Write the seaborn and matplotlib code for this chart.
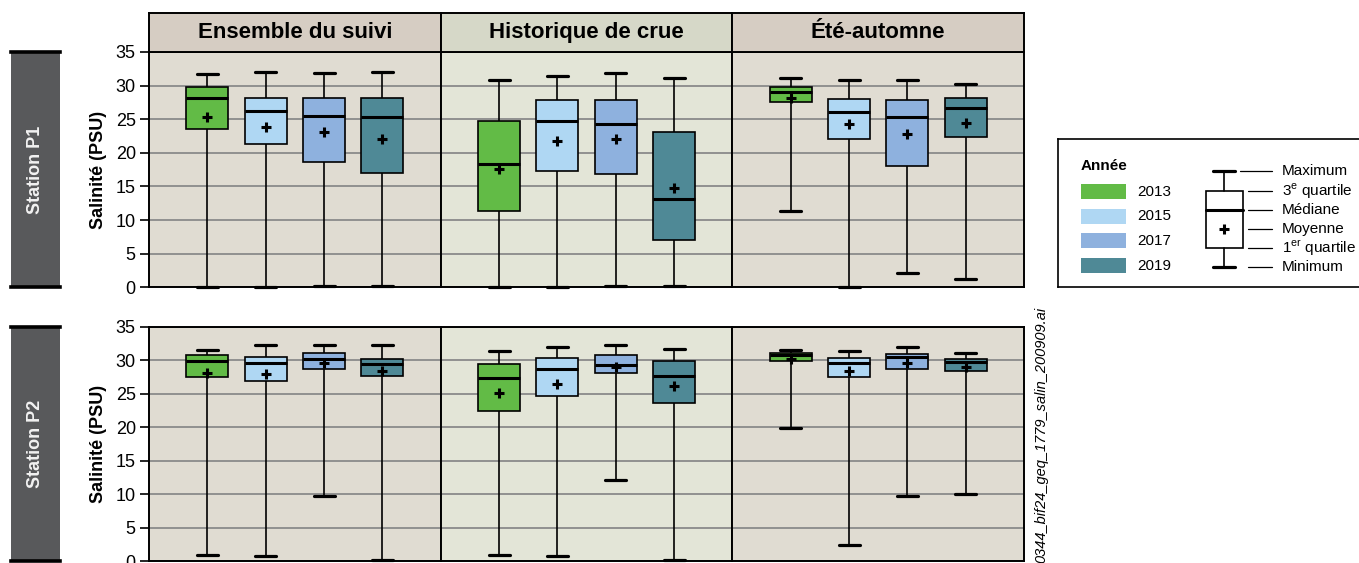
import numpy as np
import pandas as pd
import matplotlib
matplotlib.use("Agg")
import matplotlib.pyplot as plt
import seaborn as sns
from matplotlib.patches import Rectangle

# --- Data ---
YEARS = ["2013", "2015", "2017", "2019"]
YEAR_COLORS = ["#62bb46", "#afd7f3", "#8eb1de", "#4f8996"]
PERIODS = ["Ensemble du suivi", "Historique de crue", "Été-automne"]
STATIONS = ["Station P1", "Station P2"]

# Station P1 : one row per period, one value per year
p1_min = [[0.1, 0.1, 0.25, 0.15], [0.1, 0.1, 0.25, 0.25], [11.3, 0.1, 2.2, 1.2]]
p1_q1 = [[23.6, 21.3, 18.7, 17.0], [11.3, 17.3, 16.9, 7.1], [27.6, 22.0, 18.1, 22.4]]
p1_med = [[28.2, 26.2, 25.5, 25.3], [18.4, 24.8, 24.3, 13.2], [29.1, 26.1, 25.3, 26.6]]
p1_q3 = [[29.8, 28.2, 28.2, 28.2], [24.8, 27.9, 27.8, 23.1], [29.8, 28.0, 27.9, 28.2]]
p1_max = [[31.7, 32.0, 31.9, 32.0], [30.8, 31.5, 31.9, 31.1], [31.1, 30.9, 30.9, 30.2]]
p1_mean = [[25.3, 23.9, 23.1, 22.0], [17.6, 21.7, 22.0, 14.7], [28.2, 24.3, 22.8, 24.5]]

# Station P2
p2_min = [[1.0, 0.85, 9.8, 0.2], [1.0, 0.85, 12.1, 0.25], [19.8, 2.4, 9.8, 10.1]]
p2_q1 = [[27.5, 26.9, 28.7, 27.6], [22.4, 24.7, 28.0, 23.6], [29.9, 27.5, 28.7, 28.4]]
p2_med = [[29.8, 29.6, 30.2, 29.4], [27.3, 28.6, 29.3, 27.6], [30.7, 29.6, 30.4, 29.7]]
p2_q3 = [[30.8, 30.5, 31.0, 30.2], [29.4, 30.3, 30.7, 29.9], [31.0, 30.3, 30.9, 30.1]]
p2_max = [[31.5, 32.2, 32.2, 32.2], [31.3, 31.9, 32.2, 31.7], [31.5, 31.3, 31.9, 31.0]]
p2_mean = [[28.0, 27.9, 29.6, 28.4], [25.1, 26.5, 29.0, 26.1], [30.2, 28.3, 29.6, 28.9]]

STATS = [
    (p1_min, p1_q1, p1_med, p1_q3, p1_max, p1_mean),
    (p2_min, p2_q1, p2_med, p2_q3, p2_max, p2_mean),
]

# --- Style ---
sns.set_theme(style="white")
plt.rcParams["font.family"] = ["Liberation Sans", "DejaVu Sans"]
plt.rcParams["mathtext.fontset"] = "custom"
plt.rcParams["mathtext.rm"] = "Liberation Sans"
plt.rcParams["text.color"] = "black"
plt.rcParams["axes.labelcolor"] = "black"
plt.rcParams["ytick.color"] = "black"
plt.rcParams["xtick.color"] = "black"

BG = ["#e0dcd2", "#e3e5d7", "#e0dcd2"]
HEADER_BG = ["#d6cdc3", "#d6d8c8", "#d6cdc3"]
GRID = "#909090"
W, H = 1359, 563
LEFT, PANEL_W = 149, 291.7
ROWS = [(52, 287.3), (326.5, 561.3)]
LEGEND_FS = 11

fig = plt.figure(figsize=(W / 100, H / 100), dpi=100)


def px_axes(x0, y0, x1, y1):
    """Axes placed in pixel coordinates (origin top-left)."""
    return fig.add_axes([x0 / W, 1 - y1 / H, (x1 - x0) / W, (y1 - y0) / H])


def panel_frame(mins, q1s, meds, q3s, maxs):
    # five summary values per year -> quartiles/whiskers reproduce exactly
    rows = []
    for year, *vals in zip(YEARS, mins, q1s, meds, q3s, maxs):
        for v in vals:
            rows.append({"annee": year, "salinite": v})
    return pd.DataFrame(rows)


for i, (top, bottom) in enumerate(ROWS):
    mins, q1s, meds, q3s, maxs, means = STATS[i]
    for j, period in enumerate(PERIODS):
        ax = px_axes(LEFT + j * PANEL_W, top, LEFT + (j + 1) * PANEL_W, bottom)
        ax.set_facecolor(BG[j])
        df = panel_frame(mins[j], q1s[j], meds[j], q3s[j], maxs[j])
        sns.boxplot(
            data=df, x="annee", y="salinite", hue="annee",
            order=YEARS, hue_order=YEARS, palette=YEAR_COLORS,
            saturation=1, width=0.72, whis=(0, 100), showfliers=False,
            linecolor="black", linewidth=1.2,
            medianprops=dict(linewidth=2.2), capprops=dict(linewidth=2.3),
            legend=False, ax=ax,
        )
        # let the caps sitting on the zero line show fully
        for ln in ax.lines:
            ln.set_clip_on(False)
        sns.pointplot(
            x=YEARS, y=means[j], order=YEARS, color="black",
            marker="+", markersize=6.5, markeredgewidth=2.2,
            linestyle="none", errorbar=None, ax=ax, zorder=6,
        )
        ax.set_xlim(-1, 4)
        ax.set_ylim(0, 35)
        ax.set_yticks(range(0, 36, 5))
        ax.yaxis.grid(True, color=GRID, linewidth=1.4)
        ax.xaxis.grid(False)
        ax.set_axisbelow(True)
        ax.set_xticks([])
        ax.set_xlabel("")
        for s in ax.spines.values():
            s.set_visible(True)
            s.set_color("black")
            s.set_linewidth(1.4)
        if j == 0:
            ax.set_ylabel("Salinité (PSU)", fontsize=13, fontweight="bold", labelpad=6)
            ax.tick_params(axis="y", length=6.5, width=1.2, color="black",
                           labelsize=13, pad=3, left=True)
        else:
            ax.set_ylabel("")
            ax.tick_params(axis="y", length=0, labelleft=False)

        if i == 0:
            hx = px_axes(LEFT + j * PANEL_W, 13, LEFT + (j + 1) * PANEL_W, 52)
            hx.set_facecolor(HEADER_BG[j])
            hx.set_xticks([])
            hx.set_yticks([])
            for s in hx.spines.values():
                s.set_color("black")
                s.set_linewidth(1.4)
            hx.text(0.5, 0.5, period, ha="center", va="center",
                    fontsize=16, fontweight="bold", transform=hx.transAxes)

    # station label block
    sx = px_axes(11, top, 60, bottom)
    sx.set_facecolor("#58595b")
    sx.set_xticks([])
    sx.set_yticks([])
    sx.spines["left"].set_visible(False)
    sx.spines["right"].set_visible(False)
    for k in ("top", "bottom"):
        sx.spines[k].set_color("black")
        sx.spines[k].set_linewidth(2.6)
    sx.text(0.5, 0.5, STATIONS[i], rotation=90, ha="center", va="center",
            color="#f2f2f2", fontsize=13, fontweight="bold", transform=sx.transAxes)

# --- Legend panel (local pixel coordinates) ---
lx = px_axes(1058, 139, 1360, 287)
lx.set_xlim(0, 302)
lx.set_ylim(148, 0)
lx.set_xticks([])
lx.set_yticks([])
lx.set_facecolor("white")
for s in lx.spines.values():
    s.set_color("black")
    s.set_linewidth(1.2)

lx.text(23, 27, "Année", fontsize=LEGEND_FS, fontweight="bold", va="center")
for k, (year, col) in enumerate(zip(YEARS, YEAR_COLORS)):
    yc = 52.5 + k * 24.7
    lx.add_patch(Rectangle((23, yc - 7.5), 45, 15, facecolor=col, edgecolor="none"))
    lx.text(79, yc, year, fontsize=LEGEND_FS, va="center")

cx = 166
lx.plot([cx, cx], [31.7, 51.7], color="black", lw=1.2)
lx.plot([cx, cx], [109.3, 128.3], color="black", lw=1.2)
lx.plot([cx - 11, cx + 11], [31.7, 31.7], color="black", lw=2.3)
lx.plot([cx - 11, cx + 11], [128.3, 128.3], color="black", lw=2.3)
lx.add_patch(Rectangle((147.7, 51.7), 37, 57.6, facecolor="white",
                       edgecolor="black", lw=1.2))
lx.plot([147.7, 184.7], [71, 71], color="black", lw=2.2)
lx.plot([cx], [90.3], marker="+", color="black", markersize=6.5, mew=2.2)

keys = ["Maximum", "3$^{\\rm e}$ quartile", "Médiane", "Moyenne",
        "1$^{\\rm er}$ quartile", "Minimum"]
key_y = [31.7, 51.7, 71, 90.3, 109.3, 128.3]
for k, (lab, yk) in enumerate(zip(keys, key_y)):
    x_start = 182 if k == 0 else 190
    lx.plot([x_start, 213.7], [yk, yk], color="black", lw=0.9)
    lx.text(224, yk, lab, fontsize=LEGEND_FS, va="center")

fig.text(1041.7 / W, 1 - 307 / H, "0344_bif24_geq_1779_salin_200909.ai",
         rotation=90, ha="center", va="top", style="italic", fontsize=10.5)

fig.savefig("out.png", dpi=100)
